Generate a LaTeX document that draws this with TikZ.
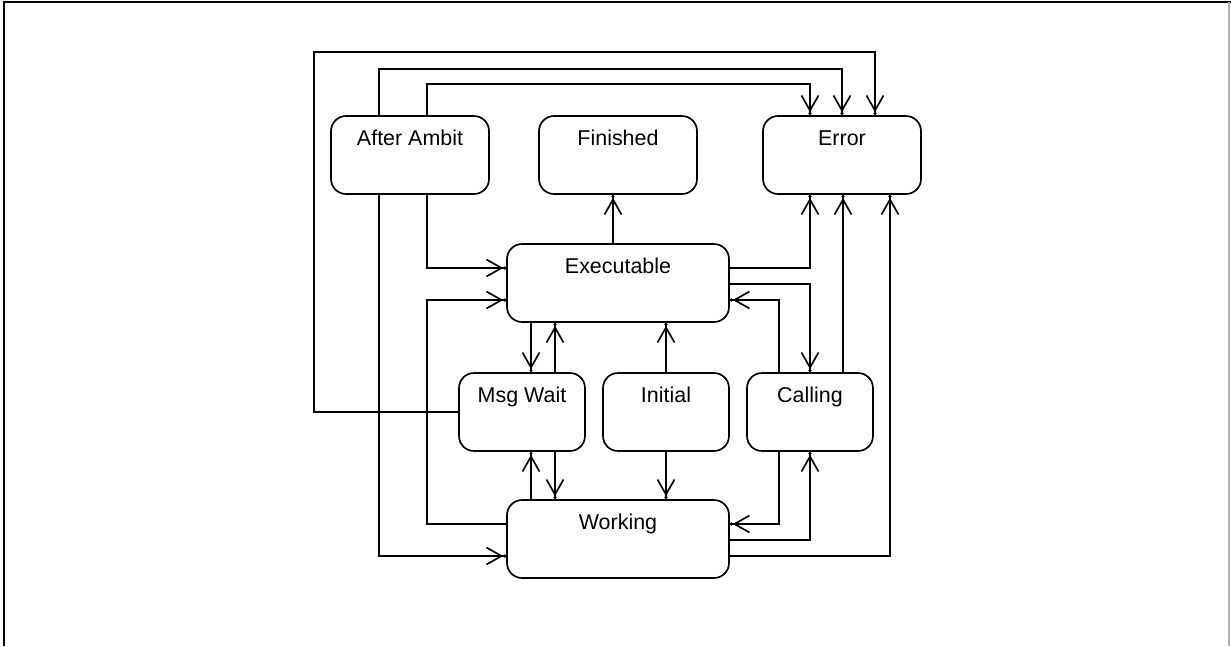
\documentclass[tikz,border=0pt]{standalone}
\usepackage{fontspec}
\setmainfont{Liberation Sans}
\usetikzlibrary{arrows.meta}
\begin{document}
\begin{tikzpicture}[x=0.02cm,y=-0.02cm,line width=0.95pt,
    state/.style={draw,rounded corners=0.3cm,inner sep=0pt,
      text height=0.58cm,text depth=0.98cm,font=\fontsize{12.2}{14}\selectfont},
    wide/.style={state,minimum width=4.44cm},
    mid/.style={state,minimum width=3.16cm},
    small/.style={state,minimum width=2.52cm}]
      \useasboundingbox (0,0) rectangle (1231,646);
      \draw (4,646) -- (4,2) -- (1231,2);
      \draw[gray!60] (1229,2) -- (1229,646);
      \draw
        (410,155) node[mid] (aa){After Ambit}
        (618,155) node[mid] (fin){Finished}
        (842,155) node[mid] (err){Error}
        (618,283) node[wide] (exe){Executable}
        (522,412) node[small] (msg){Msg Wait}
        (666,412) node[small] (ini){Initial}
        (810,412) node[small] (cal){Calling}
        (618,539) node[wide] (wrk){Working};
      \begin{scope}[-{Straight Barb[length=0.3cm,width=0.34cm]Circle[length=1.7pt]}]
        \draw (aa.north -| 379,0) -- (379,69) -| (err.north);
        \draw (aa.north -| 427,0) -- (427,84) -| (err.north -| 810,0);
        \draw (msg.west) -| (314,52) -| (err.north -| 875,0);
        \draw (aa.south -| 427,0) |- (exe.west |- 0,268);
        \draw (aa.south -| 379,0) |- (wrk.west |- 0,556);
        \draw (wrk.west |- 0,524) -| (427,300) -- (exe.west |- 0,300);
        \draw (exe.north -| 613,0) -- (fin.south -| 613,0);
        \draw (exe.east |- 0,268) -| (err.south -| 810,0);
        \draw (exe.east |- 0,284) -| (cal.north);
        \draw (cal.north -| 779,0) |- (exe.east |- 0,300);
        \draw (cal.north -| 843,0) -- (err.south -| 843,0);
        \draw (wrk.east |- 0,556) -| (err.south -| 890,0);
        \draw (exe.south -| 531,0) -- (msg.north -| 531,0);
        \draw (msg.north -| 555,0) -- (exe.south -| 555,0);
        \draw (wrk.north -| 531,0) -- (msg.south -| 531,0);
        \draw (msg.south -| 555,0) -- (wrk.north -| 555,0);
        \draw (ini.north) -- (exe.south -| ini.north);
        \draw (ini.south) -- (wrk.north -| ini.south);
        \draw (cal.south -| 779,0) |- (wrk.east |- 0,524);
        \draw (wrk.east |- 0,540) -| (cal.south);
      \end{scope}
    \end{tikzpicture}
\end{document}
